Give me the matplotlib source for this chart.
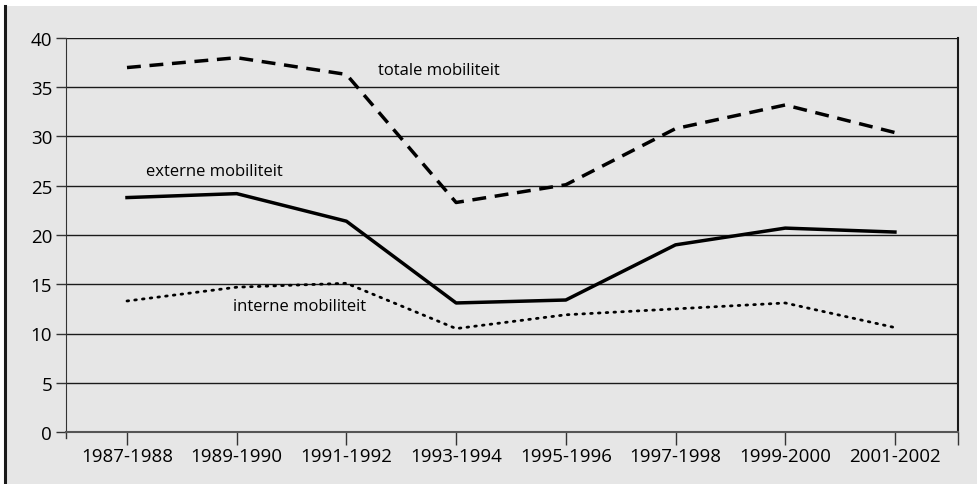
import matplotlib
matplotlib.use("Agg")
import matplotlib.pyplot as plt
from matplotlib.patches import Rectangle
from matplotlib.lines import Line2D

categories = ["1987-1988", "1989-1990", "1991-1992", "1993-1994",
              "1995-1996", "1997-1998", "1999-2000", "2001-2002"]
totale = [37.0, 38.0, 36.3, 23.3, 25.1, 30.8, 33.2, 30.4]
externe = [23.8, 24.2, 21.4, 13.1, 13.4, 19.0, 20.7, 20.3]
interne = [13.3, 14.7, 15.1, 10.5, 11.9, 12.5, 13.1, 10.6]
yticks = [0, 5, 10, 15, 20, 25, 30, 35, 40]

plt.rcParams['font.family'] = ['Open Sans', 'DejaVu Sans']

W, H = 978, 485
fig = plt.figure(figsize=(W / 100, H / 100), dpi=100)
fig.patch.set_facecolor("white")
bg = "#e6e6e6"
fig.patches.append(Rectangle((6 / W, 0), 1 - 6 / W, 1 - 7 / H, transform=fig.transFigure,
                             facecolor=bg, edgecolor="none", zorder=-10))
fig.lines.append(Line2D([5 / W, 5 / W], [0, 1 - 7 / H], transform=fig.transFigure,
                        color="#1a1a1a", lw=2.2, zorder=-9))

ax = fig.add_axes([66 / W, 1 - 433 / H, (958 - 66) / W, (433 - 39) / H])
ax.set_facecolor(bg)
x = list(range(len(categories)))
ax.plot(x, totale, color="black", lw=2.5, ls=(0, (4, 2.5)), zorder=3)
ax.plot(x, externe, color="black", lw=2.5, ls="-", zorder=3)
ax.plot(x, interne, color="black", lw=2.0, ls=(0, (0.6, 2.2)), dash_capstyle="round", zorder=3)

xl, xr = -0.556, 7.575
ax.set_xlim(xl, xr)
ax.set_ylim(0, 40)
ax.set_yticks(yticks)
ax.set_yticklabels([str(v) for v in yticks], fontsize=13.5)
ax.set_xticks(x + [xr])
ax.set_xticklabels(categories + [""], fontsize=13.5)
ax.tick_params(axis="x", length=9, width=1, color="#333333", pad=2)
ax.tick_params(axis="y", length=7, width=1, color="#333333", pad=3)
ax.yaxis.grid(True, color="#1a1a1a", lw=1)
ax.set_axisbelow(True)
ax.spines["top"].set_visible(False)
ax.spines["left"].set_color("#333333")
ax.spines["right"].set_color("#1a1a1a")
ax.spines["right"].set_linewidth(1.5)
ax.spines["bottom"].set_color("#555555")
ax.spines["bottom"].set_linewidth(1.5)
ax.plot([xl, xl], [0, -0.6], color="#333333", lw=1, clip_on=False)

ax.text(2.29, 36.75, "totale mobiliteit", fontsize=12, va="center", ha="left")
ax.text(0.17, 26.5, "externe mobiliteit", fontsize=12, va="center", ha="left")
ax.text(0.97, 12.8, "interne mobiliteit", fontsize=12, va="center", ha="left")

fig.savefig("out.png", dpi=100, facecolor=fig.get_facecolor())
